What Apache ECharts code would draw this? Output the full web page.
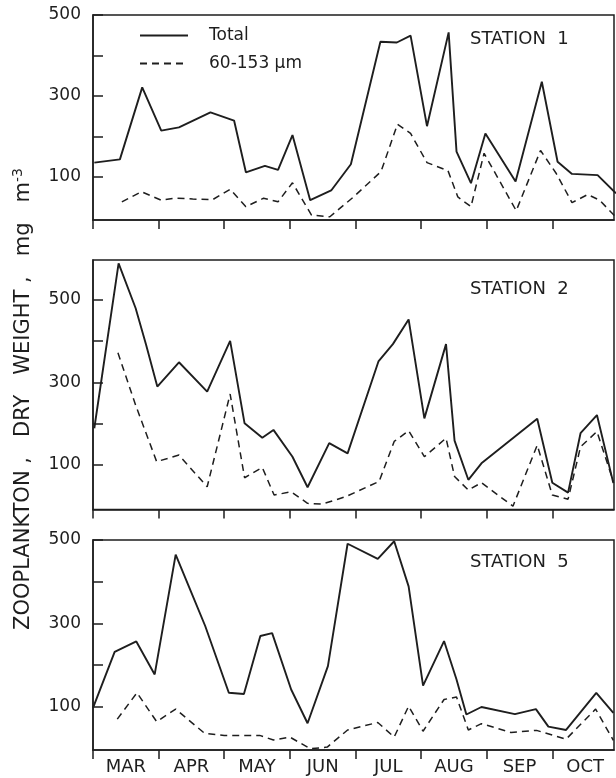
<!DOCTYPE html>
<html>
<head>
<meta charset="utf-8">
<script src="https://cdn.jsdelivr.net/npm/echarts@6/dist/echarts.min.js"></script>
<style>
html,body{margin:0;padding:0;background:#fff;}
#c{width:616px;height:778px;}
</style>
</head>
<body>
<div id="c"></div>
<script>
// Month labels (x positions are in months since 1 March)
const months = ['MAR','APR','MAY','JUN','JUL','AUG','SEP','OCT'];
const monthTicks = [0,1,2,3,4,5,6,7];
const monthLabelPos = [0.5,1.5,2.5,3.5,4.5,5.5,6.5,7.5];
const yTicks = [100,200,300,400,500];
const yLabels = [100,300,500];
const seriesNames = ['Total','60-153 μm'];
const stations = ['STATION  1','STATION  2','STATION  5'];

// Station 1
const s1TotalT = [0.02,0.41,0.75,1.04,1.31,1.79,2.15,2.33,2.62,2.82,3.04,3.31,3.63,3.93,4.38,4.63,4.84,5.09,5.42,5.54,5.76,5.98,6.44,6.84,7.08,7.30,7.69,7.97];
const s1TotalV = [135,143,321,214,222,259,239,111,127,117,203,42,66,131,434,432,449,225,457,162,84,207,88,335,137,107,104,59];
const s1FineT  = [0.44,0.74,1.04,1.25,1.52,1.82,2.09,2.33,2.60,2.82,3.04,3.33,3.61,3.97,4.39,4.64,4.84,5.09,5.41,5.56,5.76,5.96,6.45,6.82,7.06,7.30,7.54,7.72,7.97];
const s1FineV  = [38,63,42,47,45,43,69,26,47,38,85,5,1,50,113,230,207,135,115,50,26,158,16,165,108,36,56,42,0];

// Station 2
const s2TotalT = [0.02,0.39,0.65,0.81,0.98,1.31,1.74,2.09,2.31,2.58,2.75,3.04,3.27,3.60,3.88,4.35,4.57,4.81,5.05,5.38,5.51,5.72,5.92,6.77,7.00,7.24,7.43,7.68,7.93];
const s2TotalV = [189,589,480,391,290,349,278,401,201,166,185,120,46,153,128,351,393,453,213,393,159,64,104,212,57,33,177,221,56];
const s2FineT  = [0.38,0.65,0.97,1.31,1.74,2.09,2.31,2.58,2.76,3.02,3.27,3.49,3.85,4.36,4.59,4.81,5.05,5.38,5.51,5.72,5.92,6.40,6.77,7.00,7.24,7.43,7.68,7.93];
const s2FineV  = [372,245,108,124,47,272,69,94,27,35,7,5,23,60,157,183,120,165,72,39,57,0,148,27,17,144,181,60];

// Station 5
const s5TotalT = [0.00,0.33,0.66,0.94,1.26,1.46,1.71,2.07,2.30,2.55,2.73,3.02,3.27,3.58,3.88,4.34,4.59,4.81,5.03,5.35,5.54,5.69,5.92,6.43,6.75,6.94,7.21,7.67,7.93];
const s5TotalV = [98,232,257,178,465,389,294,134,131,270,277,142,61,198,491,455,497,389,151,258,166,82,100,83,95,53,45,134,86];
const s5FineT  = [0.37,0.67,0.97,1.26,1.70,2.00,2.54,2.75,3.00,3.31,3.57,3.88,4.34,4.59,4.81,5.03,5.35,5.54,5.72,5.92,6.37,6.76,7.21,7.66,7.93];
const s5FineV  = [71,134,65,95,37,32,32,21,28,0,4,45,63,28,102,42,118,124,45,60,39,44,23,95,20];

const panels = [
  {total:[s1TotalT,s1TotalV], fine:[s1FineT,s1FineV], top:15,  height:205,   min:-7, max:500, label:stations[0], ly:39},
  {total:[s2TotalT,s2TotalV], fine:[s2FineT,s2FineV], top:260, height:249.5, min:-8, max:597, label:stations[1], ly:289},
  {total:[s5TotalT,s5TotalV], fine:[s5FineT,s5FineV], top:540, height:210,   min:-3, max:500, label:stations[2], ly:562}
];

const ink = '#1e1e1e';
const font = 'DejaVu Sans';
const zip = (a,b) => a.map((t,i)=>[t,b[i]]);

const grids=[], xAxes=[], yAxes=[], series=[], graphics=[];
panels.forEach((p,i)=>{
  grids.push({left:93, width:521, top:p.top, height:p.height, show:true, borderColor:ink, borderWidth:1.5, backgroundColor:'transparent'});
  xAxes.push({
    gridIndex:i, type:'value', min:0, max:7.94,
    axisLine:{show:true, onZero:false, lineStyle:{color:ink, width:1.5}},
    axisTick:{show:true, inside:false, length:9, customValues:monthTicks, lineStyle:{color:ink, width:1.5}},
    axisLabel:{show:i===2, customValues:monthLabelPos, margin:8, fontSize:18, fontFamily:font, color:ink,
      formatter:(v)=>months[Math.round(v-0.5)]},
    splitLine:{show:false}
  });
  yAxes.push({
    gridIndex:i, type:'value', min:p.min, max:p.max,
    axisLine:{show:true, onZero:false, lineStyle:{color:ink, width:1.5}},
    axisTick:{show:true, inside:true, length:10, customValues:yTicks, lineStyle:{color:ink, width:1.5}},
    axisLabel:{customValues:yLabels, margin:12, fontSize:17, fontFamily:font, color:ink},
    splitLine:{show:false}
  });
  series.push({
    name:seriesNames[0], type:'line', xAxisIndex:i, yAxisIndex:i, data:zip(p.total[0],p.total[1]),
    symbol:'none', lineStyle:{color:ink, width:1.9, type:'solid'}, itemStyle:{color:ink}, silent:true
  });
  series.push({
    name:seriesNames[1], type:'line', xAxisIndex:i, yAxisIndex:i, data:zip(p.fine[0],p.fine[1]),
    symbol:'none', lineStyle:{color:ink, width:1.5, type:[7,5]}, itemStyle:{color:ink}, silent:true
  });
  graphics.push({type:'text', x:470, y:p.ly, style:{text:p.label, fontSize:18, fontFamily:font, fill:ink, verticalAlign:'middle'}});
});

graphics.push({
  type:'text', x:24, y:399, rotation:Math.PI/2,
  style:{
    text:'{a|ZOOPLANKTON ,   DRY   WEIGHT ,   mg   m}{s|-3}',
    align:'center', verticalAlign:'middle',
    rich:{
      a:{fontSize:21, fontFamily:font, fill:ink, lineHeight:26},
      s:{fontSize:14, fontFamily:font, fill:ink, verticalAlign:'top', lineHeight:26}
    }
  }
});

const chart = echarts.init(document.getElementById('c'), null, {renderer:'canvas'});
chart.setOption({
  animation:false,
  backgroundColor:'#fff',
  grid:grids, xAxis:xAxes, yAxis:yAxes, series:series,
  legend:{
    data:seriesNames, orient:'vertical', left:134, top:22,
    itemWidth:48, itemHeight:14, itemGap:11,
    itemStyle:{opacity:0},
    textStyle:{fontSize:17, fontFamily:font, color:ink, padding:[0,0,0,16]},
    selectedMode:false
  },
  graphic:graphics
});
</script>
</body>
</html>
